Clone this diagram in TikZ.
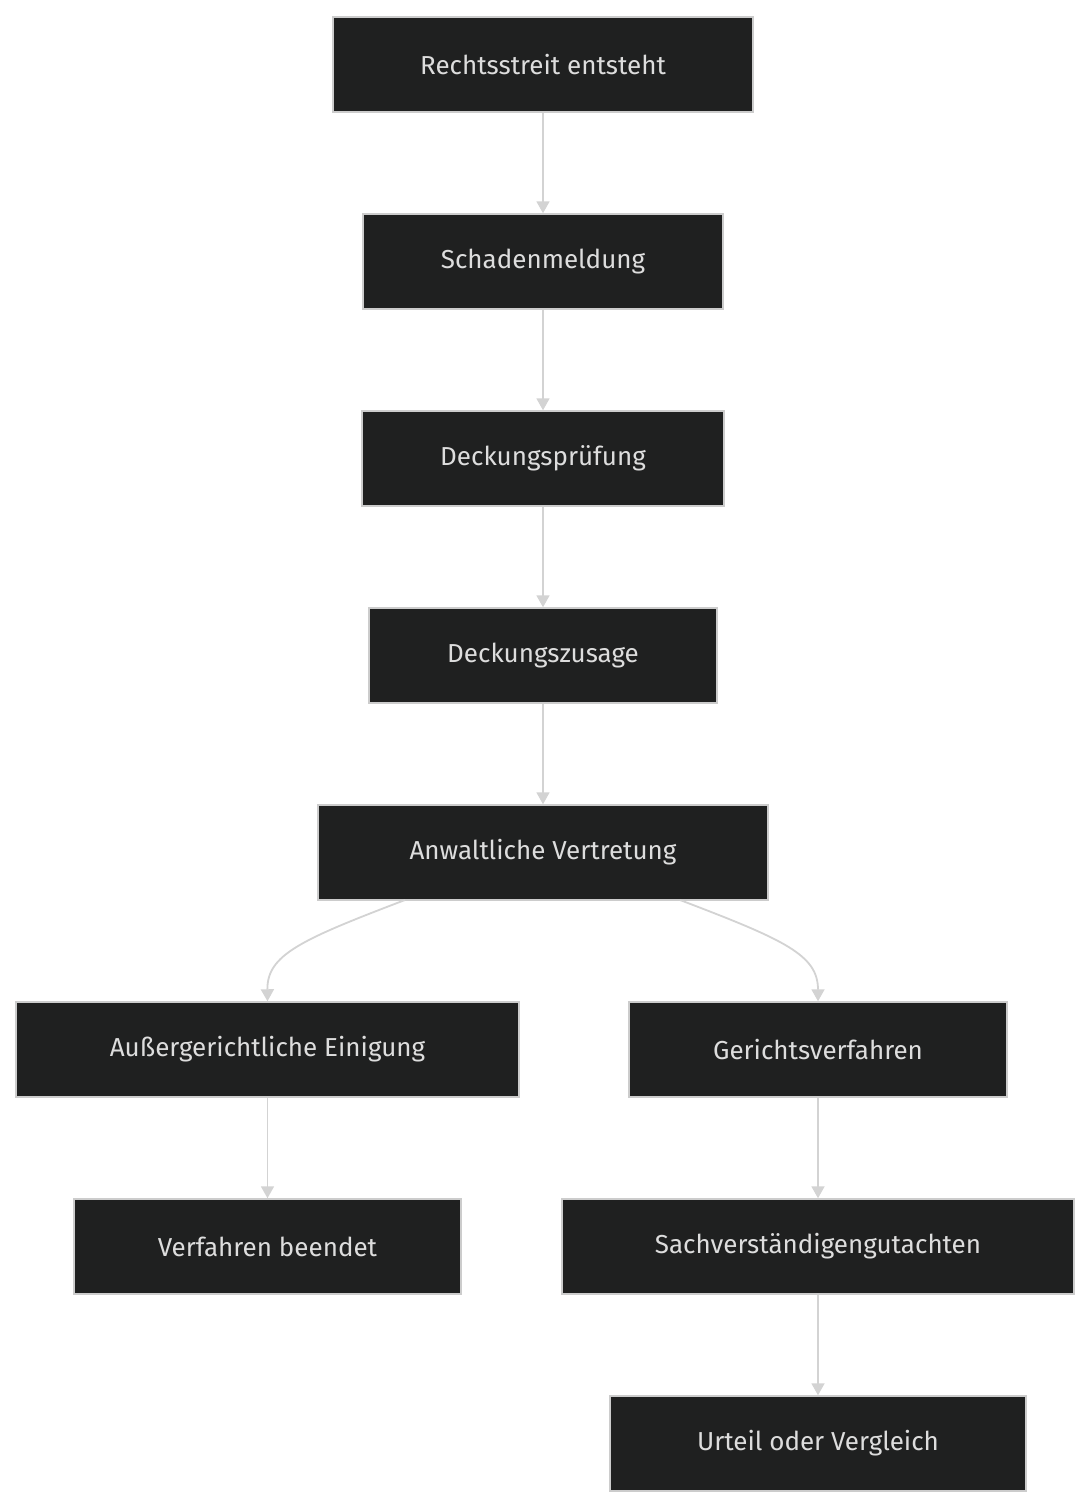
\documentclass[tikz,border=0pt]{standalone}
\usepackage{fontspec}
\setmainfont{Fira Sans}
\usetikzlibrary{arrows.meta}
\definecolor{nf}{HTML}{1F2020}
\definecolor{nb}{HTML}{CCCCCC}
\definecolor{nt}{HTML}{DDDDDD}
\definecolor{ln}{HTML}{D3D3D3}
\begin{document}
\begin{tikzpicture}[x=1pt,y=1pt,
  box/.style={draw=nb,line width=1.5pt,fill=nf,text=nt,font=\fontsize{26}{30}\selectfont,minimum height=95pt,inner sep=0pt},
  ar/.style={draw=ln,line width=1.8pt,-{Triangle[length=12pt,width=13pt]}}]
\useasboundingbox[fill=white] (0,0) rectangle (1091,-1508);
\node[box,minimum width=420pt] (n1) at (543,-64.5) {Rechtsstreit entsteht};
\node[box,minimum width=360pt] (n2) at (543,-261.5) {Schadenmeldung};
\node[box,minimum width=362pt] (n3) at (543,-458.5) {Deckungsprüfung};
\node[box,minimum width=348pt] (n4) at (543,-655.5) {Deckungszusage};
\node[box,minimum width=450pt] (n5) at (543,-852.5) {Anwaltliche Vertretung};
\node[box,minimum width=503pt] (n6) at (267.5,-1049.5) {Außergerichtliche Einigung};
\node[box,minimum width=378pt] (n7) at (818,-1049.5) {Gerichtsverfahren};
\node[box,minimum width=387pt] (n8) at (267.5,-1246.5) {Verfahren beendet};
\node[box,minimum width=512pt] (n9) at (818,-1246.5) {Sachverständigengutachten};
\node[box,minimum width=416pt] (n10) at (818,-1443.5) {Urteil oder Vergleich};
\coordinate (c5l) at (405,-900);
\coordinate (c5r) at (680,-900);
\draw[ar] (n1) -- (n2);
\draw[ar] (n2) -- (n3);
\draw[ar] (n3) -- (n4);
\draw[ar] (n4) -- (n5);
\draw[ar] (c5l) .. controls (300,-940) and (267,-955) .. (n6.north);
\draw[ar] (c5r) .. controls (785,-940) and (818,-955) .. (n7.north);
\draw[ar] (n6) -- (n8);
\draw[ar] (n7) -- (n9);
\draw[ar] (n9) -- (n10);
\end{tikzpicture}
\end{document}
